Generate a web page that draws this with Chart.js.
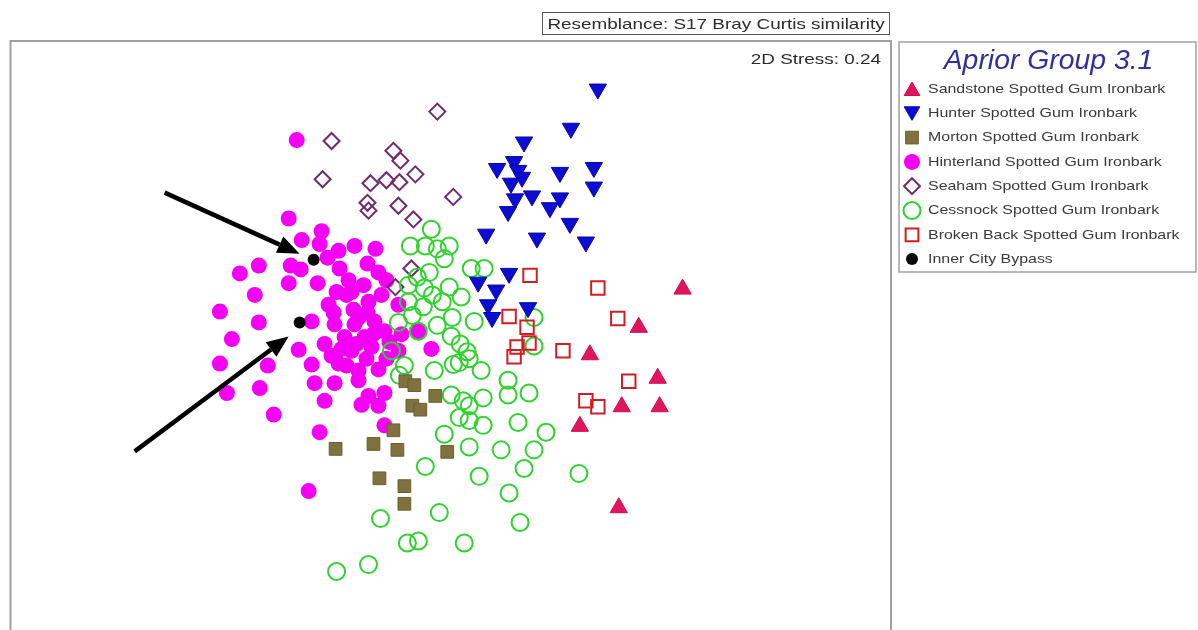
<!DOCTYPE html>
<html>
<head>
<meta charset="utf-8">
<script src="https://cdn.jsdelivr.net/npm/chart.js@4/dist/chart.umd.min.js"></script>
<style>
  html, body { margin: 0; padding: 0; background: #ffffff; overflow: hidden; }
  canvas { display: block; }
</style>
</head>
<body>
<canvas id="mds" width="1198" height="630"></canvas>
<script>
// nMDS ordination of survey plots (arbitrary ordination units)
const groupNames = [
  'Sandstone Spotted Gum Ironbark',
  'Hunter Spotted Gum Ironbark',
  'Morton Spotted Gum Ironbark',
  'Hinterland Spotted Gum Ironbark',
  'Seaham Spotted Gum Ironbark',
  'Cessnock Spotted Gum Ironbark',
  'Broken Back Spotted Gum Ironbark',
  'Inner City Bypass'
];
const titleText = 'Resemblance: S17 Bray Curtis similarity';
const stressText = '2D Stress: 0.24';
const legendTitle = 'Aprior Group 3.1';

const sandstoneX = [673, 629, 580, 648, 612, 650, 570, 609];
const sandstoneY = [336, 297, 269, 245, 216, 216, 196, 113];

const hunterX = [588, 561, 514, 504, 487, 508, 512, 550, 584, 584, 501, 505, 522,
                 550, 540, 498, 560, 476, 527, 576, 499, 468, 486, 478, 482, 518];
const hunterY = [540, 500, 486, 466, 459, 457, 450, 455, 460, 440, 444, 428, 431,
                 429, 419, 415, 403, 392, 388, 384, 352, 343, 335, 320, 307, 317];

const mortonX = [395, 404, 425, 402, 410, 383, 363, 325, 387, 437, 369, 394, 394];
const mortonY = [242, 238, 227, 217, 213, 192, 178, 173, 172, 170, 143, 135, 117];

const hinterlandX = [286, 278, 311, 291, 309, 328, 344, 365, 248, 229, 280, 290, 278, 307,
                     329, 357, 368, 244, 209, 248, 318, 341, 358, 371, 388, 301, 324, 348,
                     364, 374, 334, 354, 391, 408, 221, 288, 314, 341, 361, 388, 421, 209,
                     257, 301, 328, 348, 368, 304, 324, 348, 374, 358, 314, 351, 368, 249,
                     216, 263, 309, 374, 298, 326, 338, 353, 343, 331, 356, 376, 344, 317, 336,
                     323, 357, 379, 346, 321, 363, 336, 376];
const hinterlandY = [488, 408, 395, 386, 382, 375, 380, 377, 360, 352, 360, 356, 342, 342,
                     357, 362, 353, 330, 313, 302, 320, 333, 323, 330, 320, 303, 300, 307,
                     303, 293, 287, 287, 290, 293, 285, 274, 280, 273, 277, 273, 275, 260,
                     258, 259, 260, 253, 254, 240, 240, 243, 230, 227, 222, 218, 217, 235,
                     230, 208, 190, 197, 130, 333, 345, 340, 315, 275, 265, 265, 300, 368, 258,
                     312, 312, 282, 280, 268, 290, 330, 345];

const seahamX = [427, 321, 383, 390, 405, 312, 360, 376, 389, 443, 357, 358, 388, 403, 401, 385];
const seahamY = [517, 487, 477, 467, 453, 448, 444, 447, 445, 430, 424, 416, 421, 407, 357, 338];

const cessnockX = [421, 400, 415, 427, 439, 434, 461, 474, 419, 407, 398, 414, 439, 422,
                   451, 398, 432, 413, 402, 442, 464, 524, 388, 427, 408, 441, 450, 524,
                   457, 381, 459, 394, 443, 424, 471, 449, 389, 498, 498, 519, 441, 453,
                   473, 459, 449, 459, 473, 508, 536, 434, 459, 491, 524, 514, 415, 469,
                   569, 499, 510, 370, 429, 397, 408, 454, 358, 326];
const cessnockY = [397, 380, 380, 377, 380, 367, 357, 357, 353, 348, 340, 337, 338, 330,
                   328, 323, 323, 318, 309, 307, 303, 307, 302, 299, 293, 288, 280, 278,
                   272, 273, 265, 258, 259, 253, 253, 261, 248, 243, 228, 230, 228, 222,
                   225, 217, 205, 202, 197, 200, 190, 188, 175, 172, 172, 153, 155, 145,
                   148, 128, 98, 102, 108, 77, 79, 77, 55, 48];

const brokenBackX = [520, 588, 608, 499, 517, 519, 507, 504, 553, 619, 576, 588];
const brokenBackY = [350, 337, 306, 308, 297, 281, 277, 267, 273, 242, 222, 216];

const bypassX = [303, 289];
const bypassY = [366, 302];

const pts = (xs, ys) => xs.map((x, i) => ({ x: x, y: ys[i] }));

const datasets = [
  { label: groupNames[0], data: pts(sandstoneX, sandstoneY), pointStyle: 'triangle', rotation: 0,
    pointRadius: 10, backgroundColor: '#e3145f', borderColor: '#c8104f', pointBorderWidth: 1, order: 3 },
  { label: groupNames[1], data: pts(hunterX, hunterY), pointStyle: 'triangle', rotation: 180,
    pointRadius: 10, backgroundColor: '#0c0cd2', borderColor: '#0808a8', pointBorderWidth: 1, order: 2 },
  { label: groupNames[2], data: pts(mortonX, mortonY), pointStyle: 'rect', rotation: 0,
    pointRadius: 9, backgroundColor: '#7f723e', borderColor: '#6c5f32', pointBorderWidth: 1, order: 4 },
  { label: groupNames[3], data: pts(hinterlandX, hinterlandY), pointStyle: 'circle', rotation: 0,
    pointRadius: 8, backgroundColor: '#f400f4', borderColor: '#f400f4', pointBorderWidth: 0, order: 7 },
  { label: groupNames[4], data: pts(seahamX, seahamY), pointStyle: 'rectRot', rotation: 0,
    pointRadius: 8, backgroundColor: 'rgba(0,0,0,0)', borderColor: '#6f2a70', pointBorderWidth: 2, order: 6 },
  { label: groupNames[5], data: pts(cessnockX, cessnockY), pointStyle: 'circle', rotation: 0,
    pointRadius: 8.5, backgroundColor: 'rgba(0,0,0,0)', borderColor: '#2fd22f', pointBorderWidth: 2, order: 5 },
  { label: groupNames[6], data: pts(brokenBackX, brokenBackY), pointStyle: 'rect', rotation: 0,
    pointRadius: 9.5, backgroundColor: 'rgba(0,0,0,0)', borderColor: '#d01f24', pointBorderWidth: 2, order: 1 },
  { label: groupNames[7], data: pts(bypassX, bypassY), pointStyle: 'circle', rotation: 0,
    pointRadius: 6, backgroundColor: '#0a0a0a', borderColor: '#0a0a0a', pointBorderWidth: 0, order: 0 }
];
datasets.forEach(d => { d.pointHoverRadius = d.pointRadius; d.pointBorderColor = d.borderColor; d.pointBackgroundColor = d.backgroundColor; });

const FONT = '"Liberation Sans", Arial, sans-serif';

// text drawn with a horizontal stretch (the exported figure uses wide glyphs)
function wideText(ctx, text, x, y, sx, align) {
  const w = ctx.measureText(text).width * sx;
  const left = align === 'right' ? x - w : align === 'center' ? x - w / 2 : x;
  ctx.save();
  ctx.textAlign = 'left';
  ctx.translate(left, y);
  ctx.scale(sx, 1);
  ctx.fillText(text, 0, 0);
  ctx.restore();
  return w;
}

// frame around the ordination plus the resemblance caption and stress value
const framePlugin = {
  id: 'frame',
  beforeDatasetsDraw(chart) {
    const { ctx, chartArea: a } = chart;
    ctx.save();
    ctx.strokeStyle = '#a0a0a0';
    ctx.lineWidth = 2;
    ctx.strokeRect(a.left - 1, a.top - 1, a.right - a.left + 2, a.bottom - a.top + 20);
    ctx.fillStyle = '#2c2c2c';
    ctx.font = '15px ' + FONT;
    ctx.textBaseline = 'alphabetic';
    wideText(ctx, stressText, a.right - 9, a.top + 22, 1.26, 'right');
    // caption box above the plot
    const tw = ctx.measureText(titleText).width * 1.26;
    const cx = a.right - 174;
    ctx.strokeStyle = '#555555';
    ctx.lineWidth = 1;
    ctx.strokeRect(Math.round(cx - tw / 2 - 5) + 0.5, 12.5, Math.round(tw + 10), 22);
    wideText(ctx, titleText, cx, 29, 1.26, 'center');
    ctx.restore();
  }
};

// arrows pointing at the Inner City Bypass samples
const arrowPlugin = {
  id: 'arrows',
  afterDatasetsDraw(chart) {
    const { ctx } = chart;
    const meta = chart.getDatasetMeta(7);
    const offsets = [
      { tail: [-149, -67], tip: [-14, -6] },
      { tail: [-165, 129], tip: [-11, 14] }
    ];
    ctx.save();
    ctx.strokeStyle = '#000';
    ctx.fillStyle = '#000';
    ctx.lineWidth = 4.5;
    meta.data.forEach((el, i) => {
      const o = offsets[i];
      const tx = el.x + o.tail[0], ty = el.y + o.tail[1];
      const hx = el.x + o.tip[0], hy = el.y + o.tip[1];
      const ang = Math.atan2(hy - ty, hx - tx);
      const len = 22, half = 9;
      const bx = hx - len * Math.cos(ang), by = hy - len * Math.sin(ang);
      ctx.beginPath();
      ctx.moveTo(tx, ty);
      ctx.lineTo(bx, by);
      ctx.stroke();
      ctx.beginPath();
      ctx.moveTo(hx, hy);
      ctx.lineTo(bx + half * Math.sin(ang), by - half * Math.cos(ang));
      ctx.lineTo(bx - half * Math.sin(ang), by + half * Math.cos(ang));
      ctx.closePath();
      ctx.fill();
    });
    ctx.restore();
  }
};

// boxed group key to the right of the plot
const keyPlugin = {
  id: 'groupKey',
  afterDraw(chart) {
    const { ctx, chartArea: a } = chart;
    const left = a.right + 9, top = a.top, w = 297, h = 230;
    ctx.save();
    ctx.strokeStyle = '#a0a0a0';
    ctx.lineWidth = 1.5;
    ctx.strokeRect(left, top, w, h);
    ctx.fillStyle = '#30309c';
    ctx.font = 'italic 27px ' + FONT;
    ctx.textBaseline = 'alphabetic';
    wideText(ctx, legendTitle, left + w / 2 + 1, top + 27, 1.05, 'center');
    ctx.font = '13.5px ' + FONT;
    ctx.textBaseline = 'middle';
    chart.data.datasets.forEach((d, i) => {
      const y = top + 47 + i * 24.3;
      const mx = left + 13;
      ctx.fillStyle = d.backgroundColor;
      ctx.strokeStyle = d.borderColor;
      ctx.lineWidth = d.pointBorderWidth;
      Chart.helpers.drawPoint(ctx, {
        pointStyle: d.pointStyle, rotation: d.rotation,
        radius: Math.min(d.pointRadius, 9), borderWidth: d.pointBorderWidth
      }, mx, y + (d.pointStyle === 'triangle' ? (d.rotation ? -2 : 2) : 0));
      ctx.fillStyle = '#3a3a3a';
      wideText(ctx, d.label, left + 29, y, 1.18, 'left');
    });
    ctx.restore();
  }
};

new Chart(document.getElementById('mds'), {
  type: 'scatter',
  data: { datasets: datasets },
  options: {
    responsive: false,
    animation: false,
    events: [],
    layout: { padding: { left: 9, top: 42, right: 308, bottom: 0 } },
    scales: {
      x: { type: 'linear', min: 0, max: 881, display: false },
      y: { type: 'linear', min: 0, max: 588, display: false }
    },
    plugins: {
      legend: { display: false },
      tooltip: { enabled: false },
      title: { display: false }
    }
  },
  plugins: [framePlugin, arrowPlugin, keyPlugin]
});
</script>
</body>
</html>
